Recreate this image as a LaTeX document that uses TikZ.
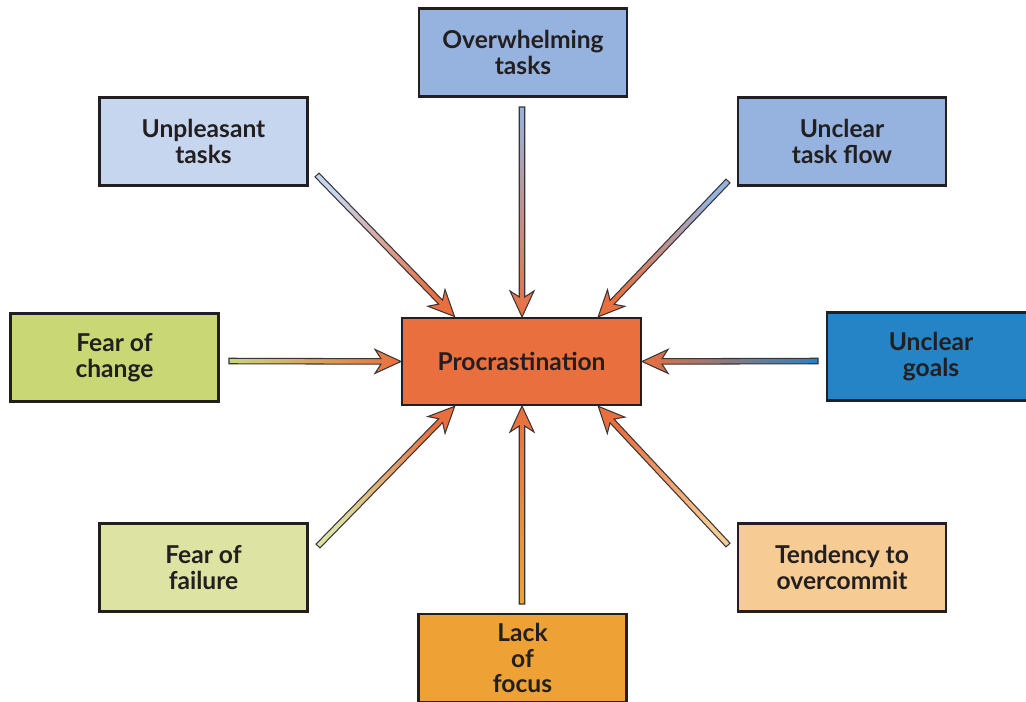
\documentclass[tikz,border=0pt]{standalone}
\usepackage{fontspec}
\setmainfont{Lato}
\usetikzlibrary{calc}

\definecolor{procorange}{HTML}{E96F3F}
\definecolor{boxline}{HTML}{231F20}
\definecolor{arrowline}{HTML}{3A3536}
\definecolor{midblue}{HTML}{95B3DE}
\definecolor{paleblue}{HTML}{C7D6EF}
\definecolor{deepblue}{HTML}{2484C6}
\definecolor{limegreen}{HTML}{C9D775}
\definecolor{palegreen}{HTML}{DCE3A3}
\definecolor{peach}{HTML}{F6CB94}
\definecolor{amber}{HTML}{EEA236}

\newcommand\causearrow[3]{%
	\pgfmathanglebetweenpoints{\pgfpointanchor{#1}{center}}{\pgfpointanchor{#2}{center}}%
	\let\arrowangle\pgfmathresult
	\pgfpointdiff{\pgfpointanchor{#1}{center}}{\pgfpointanchor{#2}{center}}%
	\pgfgetlastxy{\arrowdx}{\arrowdy}%
	\pgfmathsetmacro\arrowlength{veclen(\arrowdx,\arrowdy)}%
	\pgfmathsetmacro\arrowshade{\arrowangle+90}%
	\begin{scope}[shift={(#1)}, rotate=\arrowangle]
		\shade [left color=#3, middle color=procorange!55!#3, right color=procorange,
				shading angle=\arrowshade, draw=arrowline, line width=.6pt]
			(0cm,-.055cm) -- (\arrowlength pt-.40cm,-.055cm) -- (\arrowlength pt-.52cm,-.24cm)
			-- (\arrowlength pt,0cm) -- (\arrowlength pt-.52cm,.24cm) -- (\arrowlength pt-.40cm,.055cm)
			-- (0cm,.055cm) -- cycle;
	\end{scope}
}

\begin{document}
\begin{tikzpicture}[x=0.02cm, y=-0.02cm,
	cause/.style={draw=boxline, line width=1.2pt, minimum width=4.16cm, minimum height=1.76cm,
		align=center, text=boxline, font=\fontsize{14}{14.5}\selectfont\bfseries}]
	\useasboundingbox (0,0) rectangle (1026,702);

	\node [cause, fill=procorange, minimum width=4.78cm, minimum height=1.74cm] (proc) at (521.5,361.5) {Procrastination};

	\node [cause, fill=midblue] (overwhelm) at (523,52.5) {Overwhelming\\tasks};
	\node [cause, fill=paleblue] (unpleasant) at (203.5,141.5) {Unpleasant\\tasks};
	\node [cause, fill=midblue] (taskflow) at (842,141.5) {Unclear\\task flow};
	\node [cause, fill=limegreen] (change) at (114.5,357.5) {Fear of\\change};
	\node [cause, fill=deepblue] (goals) at (931,356.5) {Unclear\\goals};
	\node [cause, fill=palegreen] (failure) at (203.5,567.5) {Fear of\\failure};
	\node [cause, fill=peach] (overcommit) at (842,567.5) {Tendency to\\overcommit};
	\node [cause, fill=amber] (focus) at (522.5,658) {Lack\\of\\focus};

	\coordinate (unpleasant-out) at (317,175);
	\coordinate (overwhelm-out) at (522,107);
	\coordinate (taskflow-out) at (728,181);
	\coordinate (change-out) at (229,361);
	\coordinate (goals-out) at (818,361);
	\coordinate (failure-out) at (318,546);
	\coordinate (overcommit-out) at (728,545);
	\coordinate (focus-out) at (522,604);

	\coordinate (proc-nw) at ([xshift=1.08cm]proc.north west);
	\coordinate (proc-n) at ([xshift=.01cm]proc.north);
	\coordinate (proc-ne) at ([xshift=-.88cm]proc.north east);
	\coordinate (proc-w) at (proc.west);
	\coordinate (proc-e) at (proc.east);
	\coordinate (proc-sw) at ([xshift=1.08cm]proc.south west);
	\coordinate (proc-s) at ([xshift=.01cm]proc.south);
	\coordinate (proc-se) at ([xshift=-.88cm]proc.south east);

	\causearrow{unpleasant-out}{proc-nw}{paleblue}
	\causearrow{overwhelm-out}{proc-n}{midblue}
	\causearrow{taskflow-out}{proc-ne}{midblue}
	\causearrow{change-out}{proc-w}{limegreen}
	\causearrow{goals-out}{proc-e}{deepblue}
	\causearrow{failure-out}{proc-sw}{palegreen}
	\causearrow{overcommit-out}{proc-se}{peach}
	\causearrow{focus-out}{proc-s}{amber}

\end{tikzpicture}
\end{document}
